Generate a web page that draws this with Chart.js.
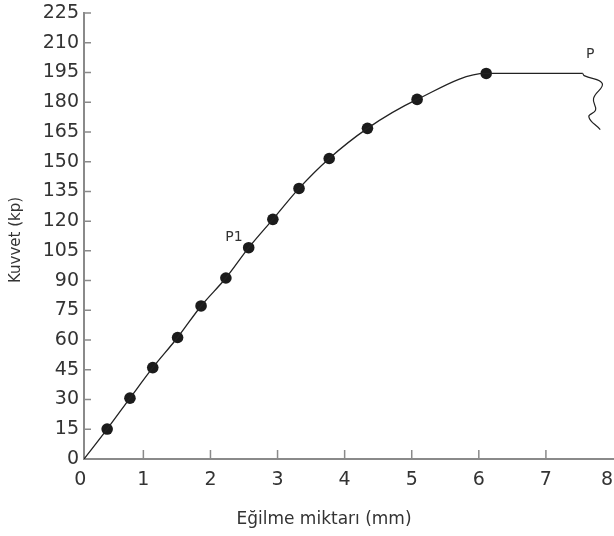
<!DOCTYPE html>
<html>
<head>
<meta charset="utf-8">
<script src="https://cdn.jsdelivr.net/npm/chart.js@4/dist/chart.umd.min.js"></script>
<style>
    html, body { margin: 0; padding: 0; background: #fff; }
    #wrap { width: 614px; height: 536px; }
</style>
</head>
<body>
<div id="wrap"><canvas id="chart"></canvas></div>
<script>
// --- DATA ---
const deflection = [0.46, 0.80, 1.14, 1.51, 1.86, 2.23, 2.57, 2.93, 3.32, 3.77, 4.34, 5.08, 6.11]; // mm
const force      = [15.1, 30.7, 46.1, 61.3, 77.2, 91.3, 106.6, 120.9, 136.5, 151.6, 166.8, 181.4, 194.5]; // kp

// curve: starts at the axis corner, passes the dots, runs flat to P
const curveX = [0.115, ...deflection, 7.55];
const curveY = [0, ...force, 194.5];

// broken end after P
const breakX = [7.55, 7.57, 7.84, 7.71, 7.74, 7.64, 7.81];
const breakY = [194.5, 193.4, 189.4, 181.9, 176.0, 172.6, 166.2];

const xTicks = [0, 1, 2, 3, 4, 5, 6, 7, 8];
const yTicks = [0, 15, 30, 45, 60, 75, 90, 105, 120, 135, 150, 165, 180, 195, 210, 225];

const noteText = ['P1', 'P'];
const noteX = [2.35, 7.66];
const noteY = [112, 204];

const xStart = 0.115; // y axis sits a little right of 0 in the original

const FONT = '"DejaVu Sans", sans-serif';
const INK = '#333';
const AXIS = '#8a8a8a';

const pts = (xs, ys) => xs.map((x, i) => ({ x, y: ys[i] }));

// first/last x labels sit a bit inward in the original
function xLabel(i) {
    if (i === 0) return xTicks[i] + '\u2009\u2009';
    if (i === xTicks.length - 1) return xTicks[i] + '\u2007';
    return String(xTicks[i]);
}

// --- EXTRAS: inward ticks, notes, axis titles ---
const extras = {
    id: 'extras',
    afterDraw(chart) {
        const { ctx, chartArea: a, scales: { x, y } } = chart;
        ctx.save();
        ctx.strokeStyle = AXIS;
        ctx.lineWidth = 1.5;
        ctx.beginPath();
        xTicks.slice(1, -1).forEach(v => {
            const px = x.getPixelForValue(v);
            ctx.moveTo(px, a.bottom);
            ctx.lineTo(px, a.bottom - 9);
        });
        yTicks.slice(1).forEach(v => {
            const py = y.getPixelForValue(v);
            ctx.moveTo(a.left, py);
            ctx.lineTo(a.left + 7, py);
        });
        ctx.stroke();

        ctx.fillStyle = INK;
        ctx.textAlign = 'center';
        ctx.textBaseline = 'middle';
        ctx.font = '14px ' + FONT;
        noteText.forEach((t, i) => {
            ctx.fillText(t, x.getPixelForValue(noteX[i]), y.getPixelForValue(noteY[i]));
        });

        ctx.font = '17px ' + FONT;
        ctx.fillText('Eğilme miktarı (mm)', 324, 520);
        ctx.font = '15px ' + FONT;
        ctx.translate(16, 240);
        ctx.rotate(-Math.PI / 2);
        ctx.fillText('Kuvvet (kp)', 0, 0);
        ctx.restore();
    }
};

// --- CHART ---
new Chart(document.getElementById('chart'), {
    type: 'scatter',
    data: {
        datasets: [
            {
                data: pts(curveX, curveY),
                showLine: true,
                pointRadius: 0,
                borderColor: '#222',
                borderWidth: 1.3,
                cubicInterpolationMode: 'monotone'
            },
            {
                data: pts(breakX, breakY),
                showLine: true,
                pointRadius: 0,
                borderColor: '#222',
                borderWidth: 1.2,
                tension: 0.45
            },
            {
                data: pts(deflection, force),
                showLine: false,
                pointRadius: 5.8,
                pointHoverRadius: 5.8,
                backgroundColor: '#1b1b1b',
                borderColor: '#1b1b1b',
                borderWidth: 0
            }
        ]
    },
    options: {
        responsive: true,
        maintainAspectRatio: false,
        animation: false,
        layout: { autoPadding: false, padding: { top: 13, right: 1, left: 0, bottom: 0 } },
        plugins: { legend: { display: false }, tooltip: { enabled: false } },
        scales: {
            x: {
                type: 'linear',
                min: xStart,
                max: 8,
                afterBuildTicks: s => { s.ticks = xTicks.map(v => ({ value: Math.max(v, xStart) })); },
                afterFit: s => { s.height = 77; s.paddingLeft = 0; s.paddingRight = 0; },
                grid: { drawOnChartArea: false, drawTicks: false },
                border: { color: AXIS, width: 2 },
                ticks: {
                    autoSkip: false, maxRotation: 0, padding: 10,
                    color: INK, font: { family: FONT, size: 19 },
                    callback: (v, i) => xLabel(i)
                }
            },
            y: {
                type: 'linear',
                min: 0,
                max: 225,
                afterBuildTicks: s => { s.ticks = yTicks.map(v => ({ value: v })); },
                afterFit: s => { s.width = 84; s.paddingTop = 0; s.paddingBottom = 0; },
                grid: { drawOnChartArea: false, drawTicks: false },
                border: { color: AXIS, width: 2 },
                ticks: {
                    autoSkip: false, padding: 5,
                    color: INK, font: { family: FONT, size: 19 },
                    callback: (v, i) => yTicks[i]
                }
            }
        }
    },
    plugins: [extras]
});
</script>
</body>
</html>
